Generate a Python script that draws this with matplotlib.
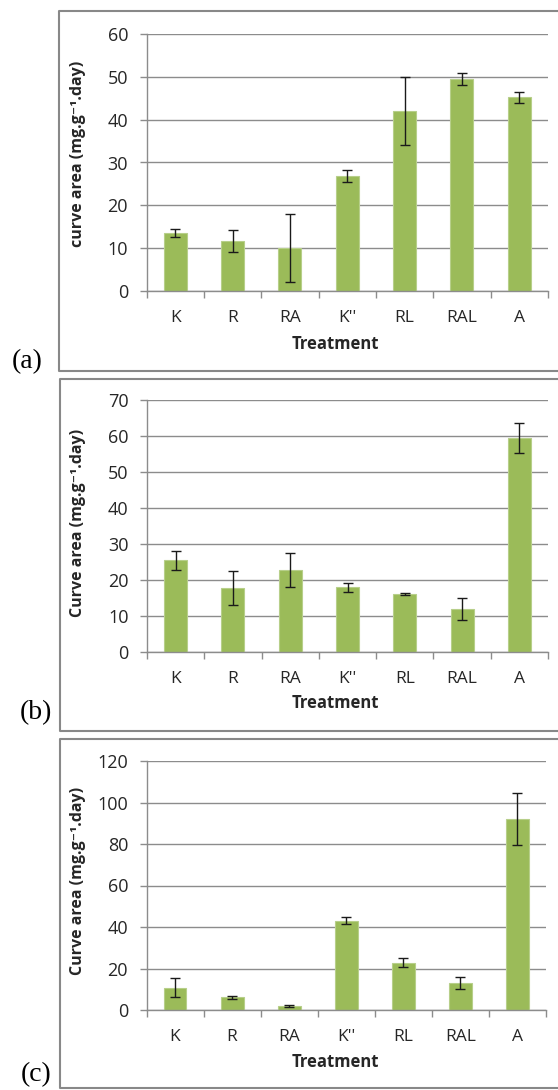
import matplotlib
matplotlib.use("Agg")
import matplotlib.pyplot as plt
from matplotlib.lines import Line2D
from matplotlib.ticker import MultipleLocator, FixedLocator

plt.rcParams['font.family'] = ['Open Sans', 'DejaVu Sans']

treatments = ["K", "R", "RA", "K''", "RL", "RAL", "A"]

area_a = [13.5, 11.7, 10.0, 26.8, 42.0, 49.5, 45.2]
err_a = [1.0, 2.5, 7.9, 1.4, 8.0, 1.4, 1.2]

area_b = [25.5, 17.8, 22.8, 18.0, 16.2, 11.9, 59.5]
err_b = [2.6, 4.7, 4.7, 1.2, 0.3, 3.0, 4.1]

area_c = [10.8, 6.1, 2.1, 43.1, 22.8, 13.0, 92.0]
err_c = [4.6, 0.6, 0.5, 1.6, 2.3, 3.0, 12.7]

W, H = 558, 1090
fig = plt.figure(figsize=(W / 100, H / 100), dpi=100)

BAR = "#9bbb59"
GRID = "#8c8c8c"
TXT = "#262626"

panels = [
    dict(vals=area_a, errs=err_a, ymax=60, step=10, box=(146.5, 548, 34, 291),
         frame=(58.7, 10.7, 370.7), tag="(a)", tagpos=(27.5, 362),
         ylab_y=154, xlab_y=344,
         ylabel="curve area (mg.g\u207b\u00b9.day)"),
    dict(vals=area_b, errs=err_b, ymax=70, step=10, box=(147, 548, 400, 652),
         frame=(60, 379, 730.7), tag="(b)", tagpos=(35.5, 713),
         ylab_y=523, xlab_y=703,
         ylabel="Curve area (mg.g\u207b\u00b9.day)"),
    dict(vals=area_c, errs=err_c, ymax=120, step=20, box=(146.5, 546, 761, 1010),
         frame=(60, 739, 1087.7), tag="(c)", tagpos=(36, 1075),
         ylab_y=881, xlab_y=1062,
         ylabel="Curve area (mg.g\u207b\u00b9.day)"),
]

for p in panels:
    x0, x1, ytop, ybot = p["box"]
    aw, ah = x1 - x0, ybot - ytop
    ax = fig.add_axes([x0 / W, 1 - ybot / H, aw / W, ah / H])
    pos = range(len(treatments))
    ax.bar(pos, p["vals"], width=0.4, color=BAR, edgecolor="#b7cf8a",
           linewidth=0.8, zorder=2)
    ax.errorbar(pos, p["vals"], yerr=p["errs"], fmt="none", ecolor="#1a1a1a",
                elinewidth=1.0, capsize=3.6, capthick=1.0, zorder=3)

    ax.set_xlim(-0.5, len(treatments) - 0.5)
    ax.set_ylim(0, p["ymax"])
    ax.yaxis.set_major_locator(MultipleLocator(p["step"]))
    ax.yaxis.grid(True, color=GRID, linewidth=1.0, zorder=0)
    ax.set_axisbelow(True)

    for s in ("top", "right"):
        ax.spines[s].set_visible(False)
    for s in ("left", "bottom"):
        ax.spines[s].set_color(GRID)
        ax.spines[s].set_linewidth(1.0)

    ax.set_xticks(list(pos))
    ax.set_xticklabels(treatments)
    ax.xaxis.set_minor_locator(FixedLocator([i - 0.5 for i in range(len(treatments) + 1)]))
    ax.tick_params(axis="x", which="major", length=0, pad=14, labelsize=12.5,
                   labelcolor=TXT)
    ax.tick_params(axis="x", which="minor", length=4.7, width=1.0, color=GRID,
                   direction="out")
    ax.tick_params(axis="y", which="major", length=5.3, width=1.0, color=GRID,
                   pad=8, labelsize=13, labelcolor=TXT)

    ax.set_xlabel("Treatment", fontsize=12, fontweight="bold", color=TXT)
    ax.xaxis.label.set_verticalalignment("center")
    ax.xaxis.set_label_coords((335 - x0) / aw, (ybot - p["xlab_y"]) / ah)

    ax.set_ylabel(p["ylabel"], fontsize=11.5, fontweight="bold", color=TXT)
    ax.yaxis.label.set_verticalalignment("center")
    ax.yaxis.set_label_coords((78 - x0) / aw, (ybot - p["ylab_y"]) / ah)

    # outer frame around each chart
    fx, fy0, fy1 = p["frame"]
    xs = [620 / W, fx / W, fx / W, 620 / W]
    ys = [1 - fy0 / H, 1 - fy0 / H, 1 - fy1 / H, 1 - fy1 / H]
    fig.add_artist(Line2D(xs, ys, color="#888888", linewidth=1.5))

    tx, ty = p["tagpos"]
    fig.text(tx / W, 1 - ty / H, p["tag"], family="Liberation Serif",
             fontsize=20, ha="center", va="center", color="black")

fig.savefig("out.png", dpi=100)
